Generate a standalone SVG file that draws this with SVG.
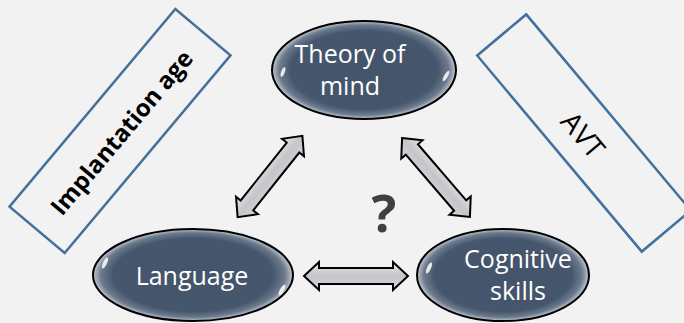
<svg xmlns="http://www.w3.org/2000/svg" width="684" height="323" viewBox="0 0 684 323">
<defs>
<style>
.node-fill{fill:url(#gloss);stroke:#000;stroke-width:2}
.lbl{font-family:"Open Sans","Liberation Sans",sans-serif;fill:#fff;font-size:25px;text-anchor:middle}
.box{fill:none;stroke:#41719c;stroke-width:2.5}
.boxlbl{font-family:"Open Sans","Liberation Sans",sans-serif;fill:#000;text-anchor:middle}
.arrow{fill:url(#arrowgrad);stroke:#000;stroke-width:2;stroke-linejoin:miter}
.glint{fill:#fff;opacity:0.85}
</style>
<radialGradient id="gloss" cx="0.5" cy="0.5" r="0.5">
<stop offset="0" stop-color="#44546a"/>
<stop offset="0.8" stop-color="#46576d"/>
<stop offset="0.92" stop-color="#6c7a8d"/>
<stop offset="1" stop-color="#c3cad3"/>
</radialGradient>
<linearGradient id="arrowgrad" x1="0" y1="0" x2="0" y2="1">
<stop offset="0" stop-color="#e6e6e8"/>
<stop offset="0.5" stop-color="#c4c5c9"/>
<stop offset="1" stop-color="#d6d7da"/>
</linearGradient>
<path id="dbl" d="M -52 0 L -37 -14 L -37 -8 L 37 -8 L 37 -14 L 52 0 L 37 14 L 37 8 L -37 8 L -37 14 Z"/>
</defs>
<rect width="684" height="323" fill="#f2f2f2"/>

<g id="implantation-age">
<rect class="box" x="-129" y="-36" width="258" height="72" transform="translate(120,131) rotate(-50)"/>
<text class="boxlbl" font-size="24" font-weight="bold" transform="translate(122,133) rotate(-50)" dy="8">Implantation age</text>
</g>

<g id="avt">
<rect class="box" x="-128" y="-32" width="256" height="64" transform="translate(584,133) rotate(50)"/>
<text class="boxlbl" font-size="28" transform="translate(583,135) rotate(50)" dy="10">AVT</text>
</g>

<g id="connectors">
<use href="#dbl" class="arrow" transform="translate(356,276)"/>
<use href="#dbl" class="arrow" transform="translate(270,176.5) rotate(-51.5)"/>
<use href="#dbl" class="arrow" transform="translate(436,177.5) rotate(49.3)"/>
</g>

<g id="question">
<text x="384" y="232" font-family="Open Sans, Liberation Sans, sans-serif" font-size="52" font-weight="bold" fill="#404040" text-anchor="middle">?</text>
</g>

<g id="theory-of-mind">
<ellipse class="node-fill" cx="364" cy="70" rx="92" ry="49"/>
<ellipse class="glint" cx="446" cy="76" rx="1.8" ry="6" transform="rotate(30 446 76)"/>
<ellipse class="glint" cx="283" cy="72" rx="1.8" ry="5" transform="rotate(20 283 72)"/>
<text class="lbl" x="350" y="63">Theory of</text>
<text class="lbl" x="350" y="95">mind</text>
</g>

<g id="language">
<ellipse class="node-fill" cx="193" cy="275" rx="100" ry="46"/>
<ellipse class="glint" cx="105" cy="263" rx="2" ry="6" transform="rotate(25 105 263)"/>
<ellipse class="glint" cx="282" cy="290" rx="2" ry="6" transform="rotate(30 282 290)"/>
<text class="lbl" x="192" y="285">Language</text>
</g>

<g id="cognitive-skills">
<ellipse class="node-fill" cx="503" cy="275" rx="86" ry="46"/>
<ellipse class="glint" cx="429" cy="268" rx="2" ry="6" transform="rotate(25 429 268)"/>
<text class="lbl" x="518" y="268">Cognitive</text>
<text class="lbl" x="518" y="300">skills</text>
</g>
</svg>
